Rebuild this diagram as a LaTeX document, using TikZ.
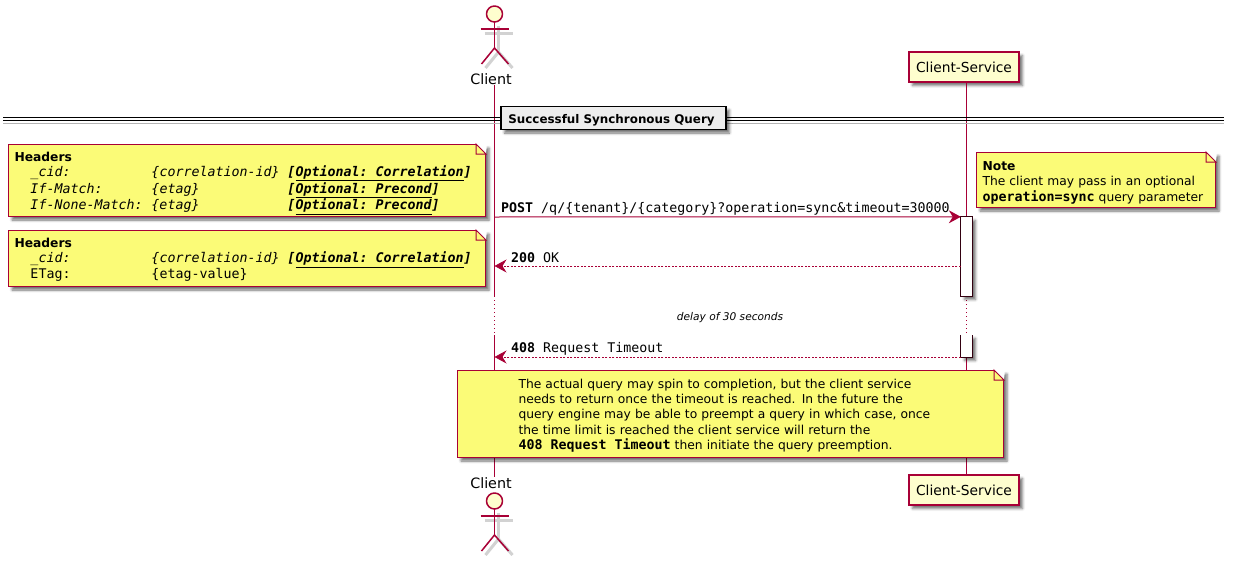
\documentclass[tikz,border=0pt]{standalone}
\usepackage{fontspec}
\setmainfont{DejaVu Sans}
\setmonofont{DejaVu Sans Mono}
\usetikzlibrary{arrows.meta,shadows.blur}
\definecolor{umlred}{HTML}{A80036}
\definecolor{umlnote}{HTML}{FBFB77}
\definecolor{umlbox}{HTML}{FEFECE}
\definecolor{umlshadow}{HTML}{B4B4B4}
\newcommand{\fs}[2]{\fontsize{#1}{#2}\selectfont}
\newcommand{\mono}{\fontsize{13.3}{15.4}\selectfont\ttfamily\spaceskip=0pt\xspaceskip=0pt }
\newcommand{\opt}[1]{\textbf{[\underline{#1}]}}
\newcommand{\hdrrow}[3]{{\mono\hspace*{16pt}\makebox[121pt][l]{#1}\makebox[136pt][l]{#2}#3}}
\newcommand{\notefold}[1]{
	\fill [white] ([xshift=-10pt]#1.north east) -- ([xshift=1pt,yshift=1pt]#1.north east) -- ([yshift=-10pt]#1.north east) -- cycle;
	\draw [notefoldline] ([xshift=-10pt]#1.north east) -- ([xshift=-10pt,yshift=-10pt]#1.north east) -- ([yshift=-10pt]#1.north east) -- cycle;
}
\newcommand{\stickman}[2]{
	\begin{scope}[shift={(#1,#2)}]
		\begin{scope}[shift={(4,4)}, draw=umlshadow!60, line width=3pt, line join=round]
			\draw (-14,15) -- (14,15);
			\draw (0,8) -- (0,34);
			\draw (-13,50) -- (0,34) -- (14,50);
		\end{scope}
		\draw [stickline] (-14,15) -- (14,15);
		\draw [stickline] (0,8) -- (0,34);
		\draw [stickline] (-13,50) -- (0,34) -- (14,50);
		\draw [stickline, fill=umlbox] (0,0) circle (8);
	\end{scope}
}
\tikzset{
	x=1pt, y=-1pt,
	softshade/.style={blur shadow={shadow xshift=3.5pt, shadow yshift=-3.5pt, shadow blur radius=2.5pt, shadow opacity=55}},
	lifeline/.style={draw=umlred, line width=1pt},
	lifedots/.style={draw=umlred, line width=1pt, dash pattern=on 1pt off 3pt},
	stickline/.style={draw=umlred, line width=1.5pt, line join=round},
	actorlabel/.style={inner sep=0pt, font=\fs{14.3}{17}},
	partbox/.style={rectangle, draw=umlred, fill=umlbox, line width=1.2pt, minimum width=110, minimum height=30, inner sep=0pt, font=\fs{13.8}{17}, softshade},
	divrule/.style={draw=black, line width=1.2pt},
	divshade/.style={draw=umlshadow, line width=1.5pt},
	divbox/.style={rectangle, draw=black, fill=black!7, line width=1.5pt, minimum width=225, minimum height=23, inner sep=0pt, font=\fs{11.9}{14}\bfseries, softshade},
	notebox/.style={rectangle, draw=umlred, fill=umlnote, line width=1pt, anchor=north west, inner xsep=6pt, inner ysep=0pt, align=left, font=\fs{12.3}{15.4}, softshade},
	notefoldline/.style={draw=umlred, line width=1pt, fill=umlnote, line join=miter},
	actbox/.style={rectangle, fill=white, minimum width=11, inner sep=0pt, softshade},
	actedge/.style={draw=black!70!umlred, line width=1pt},
	msgsolid/.style={draw=umlred, line width=1pt, -{Stealth[length=12pt, width=13pt, inset=4pt]}},
	msgdash/.style={draw=umlred, line width=0.8pt, dash pattern=on 2pt off 1.5pt, -{Stealth[length=12pt, width=13pt, inset=4pt]}},
	msglabel/.style={inner sep=0pt, anchor=base west, font=\fs{13.3}{15}\ttfamily},
	delaylabel/.style={inner sep=0pt, font=\fs{10.6}{13}\itshape},
}
\begin{document}
\begin{tikzpicture}
	\useasboundingbox (0,0) rectangle (1235,562);

	% participants
	\node (clienttop) [actorlabel] at (491,79) {Client};
	\node (clientbot) [actorlabel] at (491,483) {Client};
	\node (svctop) [partbox] at (964,67) {Client-Service};
	\node (svcbot) [partbox] at (964,490) {Client-Service};

	% lifelines
	\coordinate (clientoff) at (494.5,296);
	\coordinate (clienton) at (494.5,335);
	\coordinate (svcoff) at (966.5,296);
	\coordinate (svcon) at (966.5,335);
	\draw [lifeline] (clienttop.south -| clientoff) -- (clientoff);
	\draw [lifedots] (clientoff) -- (clienton);
	\draw [lifeline] (clienton) -- (clientbot.north -| clienton);
	\draw [lifeline] (svctop.south -| svcoff) -- (svcoff);
	\draw [lifedots] (svcoff) -- (svcon);
	\draw [lifeline] (svcon) -- (svcbot.north -| svcon);

	\stickman{494.5}{14}
	\stickman{494.5}{501}

	% divider
	\coordinate (divleft) at (3,119);
	\coordinate (divright) at (1224,119);
	\draw [divshade, transform canvas={yshift=-4.5pt}] (divleft) -- (divright);
	\foreach \dy in {-1.7,1.7}
		\draw [divrule, transform canvas={yshift=\dy pt}] (divleft) -- (divright);
	\node (divtitle) [divbox] at (613.5,118) {\hspace*{-4pt}\rule{0pt}{14pt}Successful Synchronous Query};

	% activations
	\node (act1) [actbox, minimum height=79] at (966.5,256.5) {};
	\draw [actedge] (act1.north west) rectangle (act1.south east);
	\node (act2) [actbox, minimum height=22] at (966.5,346) {};
	\draw [actedge] (act2.north west) |- (act2.south east) -- (act2.north east);

	% notes
	\node (notereq) [notebox, text width=465, minimum height=72] at (8,144) {\rule{0pt}{14.5pt}\textbf{Headers}\\
		\hdrrow{\itshape\_cid:}{\itshape\{correlation-id\}}{\itshape\opt{Optional: Correlation}}\\
		\hdrrow{\itshape If-Match:}{\itshape\{etag\}}{\itshape\opt{Optional: Precond}}\\
		\hdrrow{\itshape If-None-Match:}{\itshape\{etag\}}{\itshape\opt{Optional: Precond}}};
	\notefold{notereq}
	\node (noteres) [notebox, text width=465, minimum height=56] at (8,230) {\rule{0pt}{11.5pt}\textbf{Headers}\\
		\hdrrow{\itshape\_cid:}{\itshape\{correlation-id\}}{\itshape\opt{Optional: Correlation}}\\
		\hdrrow{ETag:}{\{etag-value\}}{}};
	\notefold{noteres}
	\node (notesync) [notebox, text width=227, minimum height=55] at (976,152) {\rule{0pt}{14.5pt}\textbf{Note}\\
		The client may pass in an optional\\
		{\mono\bfseries operation=sync} query parameter};
	\notefold{notesync}

	% messages
	\coordinate (postfrom) at (494.5,217);
	\coordinate (okfrom) at (act1.west |- 0,266);
	\coordinate (okto) at (494.5,266);
	\coordinate (lateto) at (494.5,357);
	\coordinate (latefrom) at (act2.west |- 0,357);
	\draw [msgsolid] (postfrom) -- (act1.north west);
	\draw [msgdash] (okfrom) -- (okto);
	\draw [msgdash] (latefrom) -- (lateto);
	\node (postlabel) [msglabel] at (501,212) {\textbf{POST} /q/\{tenant\}/\{category\}?operation=sync\&timeout=30000};
	\node (oklabel) [msglabel] at (511,262) {\textbf{200} OK};
	\node (latelabel) [msglabel] at (511,352) {\textbf{408} Request Timeout};
	\node (delaylabel) [delaylabel] at (730,317.5) {delay of 30 seconds};

	% timeout note
	\node (notetimeout) [notebox, text width=534, minimum height=87] at (457,370) {\leftskip=55pt\rule{0pt}{12.5pt}The actual query may spin to completion, but the client service\\
		needs to return once the timeout is reached. In the future the\\
		query engine may be able to preempt a query in which case, once\\
		the time limit is reached the client service will return the\\
		{\mono\bfseries 408 Request Timeout} then initiate the query preemption.\par};
	\notefold{notetimeout}
\end{tikzpicture}
\end{document}
